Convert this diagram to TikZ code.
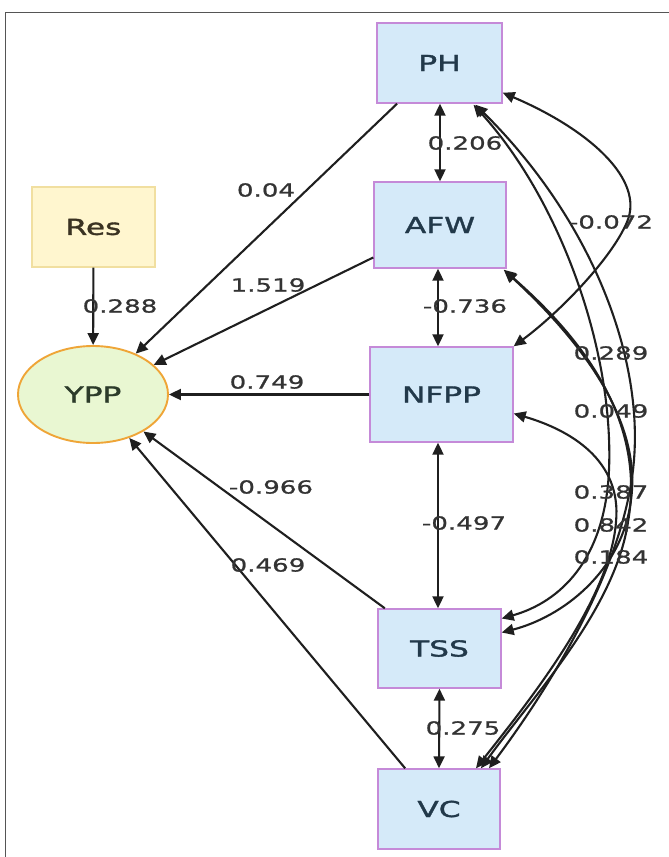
\documentclass[tikz,border=0pt]{standalone}
\usepackage{fontspec}
\setmainfont{DejaVu Sans}[FakeStretch=1.45]
\newfontfamily\namefont{DejaVu Sans}[FakeStretch=1.42, FakeBold=1.6]
\newfontfamily\coeffont{DejaVu Sans}[FakeStretch=1.45, FakeBold=1.0]
\usetikzlibrary{arrows.meta,calc,shapes.geometric}

\definecolor{boxfill}{HTML}{D5EAF9}
\definecolor{boxline}{HTML}{C58AD8}
\definecolor{resfill}{HTML}{FFF6CF}
\definecolor{resline}{HTML}{F1DFA0}
\definecolor{yppfill}{HTML}{E9F7D2}
\definecolor{yppline}{HTML}{EFA537}
\definecolor{nodetext}{HTML}{22394A}
\definecolor{restext}{HTML}{3A3222}
\definecolor{ypptext}{HTML}{2C3B2A}
\definecolor{edgetext}{HTML}{333333}
\definecolor{framecol}{HTML}{555555}

\begin{document}
\begin{tikzpicture}[x=1pt,y=-1pt,
  obsbox/.style={draw=boxline, fill=boxfill, line width=1.4pt, inner sep=0pt,
    minimum width=123pt, minimum height=80pt,
    font=\namefont\fontsize{22}{24}\selectfont, text=nodetext},
  resbox/.style={draw=resline, fill=resfill, line width=1.4pt, inner sep=0pt,
    minimum width=123pt, minimum height=80pt,
    font=\namefont\fontsize{22}{24}\selectfont, text=restext},
  latent/.style={ellipse, draw=yppline, fill=yppfill, line width=1.9pt, inner sep=0pt,
    minimum width=150pt, minimum height=97pt,
    font=\namefont\fontsize{22}{24}\selectfont, text=ypptext},
  tipT/.tip={Triangle[length=12pt,width=11pt]},
  regr/.style={line width=2.1pt, draw=black!88, -tipT},
  covar/.style={line width=2.1pt, draw=black!88, tipT-tipT},
  coef/.style={font=\coeffont\fontsize{18}{20}\selectfont, text=edgetext, inner sep=0pt},
]
\useasboundingbox (0,0) rectangle (669,857);
\fill[white] (0,0) rectangle (669,857);

% frame
\draw[framecol, line width=1.6pt] (5.5,857) -- (5.5,12.5) -- (669,12.5);

% variables
\node[obsbox, minimum width=125pt] (PH) at (439.5,63) {PH};
\node[obsbox, minimum width=132pt, minimum height=86pt] (AFW) at (440,225) {AFW};
\node[obsbox, minimum width=143pt, minimum height=95pt] (NFPP) at (441.5,394.5) {NFPP};
\node[obsbox, minimum height=79pt] (TSS) at (439.5,648.5) {TSS};
\node[obsbox, minimum width=122pt] (VC) at (439,809) {VC};
\node[resbox] (Res) at (93.5,227) {Res};
\node[latent] (YPP) at (93,394.5) {YPP};

% regressions onto YPP
\draw[regr] (Res) -- (YPP);
\draw[regr] (PH) -- (YPP);
\draw[regr] (AFW) -- (YPP);
\draw[regr] (NFPP) -- (YPP);
\draw[regr] (TSS) -- (YPP);
\draw[regr] (VC) -- (YPP);

% neighbouring covariances
\draw[covar] (PH.south -| AFW.north) -- (AFW.north);
\draw[covar] ($(AFW.south)+(-2,0)$) -- ($(NFPP.north)+(-3.5,0)$);
\draw[covar] ($(NFPP.south)+(-3.5,0)$) -- ($(TSS.north)+(-1.5,0)$);
\draw[covar] (TSS.south) -- (VC.north);

% curved covariances on the right
\draw[covar] ($(PH.south east)+(0,-11)$)
  .. controls (590,130) and (645,180) .. (627,222)
  .. controls (612,258) and (560,312) .. (NFPP.north east);
\draw[covar] ($(PH.south)+(34,1)$)
  .. controls (560,200) and (614,350) .. (609,470)
  .. controls (605,560) and (560,602) .. ($(TSS.east)+(0,-30)$);
\draw[covar] ($(PH.south)+(36,1)$)
  .. controls (592,220) and (646,360) .. (633,470)
  .. controls (620,580) and (540,700) .. ($(VC.north)+(50,0)$);
\draw[covar] ($(AFW.south east)+(-2,2)$)
  .. controls (580,340) and (642,420) .. (631,500)
  .. controls (622,572) and (562,617) .. ($(TSS.east)+(0,-16)$);
\draw[covar] ($(AFW.south east)+(-3,1)$)
  .. controls (582,338) and (646,420) .. (628,522)
  .. controls (615,610) and (530,700) .. ($(VC.north)+(42,0)$);
\draw[covar] ($(NFPP.east)+(0,19)$)
  .. controls (570,430) and (622,460) .. (616,522)
  .. controls (610,600) and (530,700) .. ($(VC.north)+(37,0)$);

% coefficients
\node[coef] (cRes)  at (120,306) {0.288};
\node[coef] (cPH)   at (266,190) {0.04};
\node[coef] (cAFW)  at (268,285) {1.519};
\node[coef] (cNFPP) at (267,382) {0.749};
\node[coef] (cTSS)  at (271,487) {-0.966};
\node[coef] (cVC)   at (268,565) {0.469};
\node[coef] (cPA)   at (465,143) {0.206};
\node[coef] (cAN)   at (465,306) {-0.736};
\node[coef] (cNT)   at (464,523) {-0.497};
\node[coef] (cTV)   at (463,728) {0.275};
\node[coef] (cPN)   at (611,222) {-0.072};
\node[coef] (c1)    at (611,353) {0.289};
\node[coef] (c2)    at (611,411) {0.049};
\node[coef] (c3)    at (611,492) {0.387};
\node[coef] (c4)    at (611,525) {0.842};
\node[coef] (c5)    at (611,557) {0.184};
\end{tikzpicture}
\end{document}
